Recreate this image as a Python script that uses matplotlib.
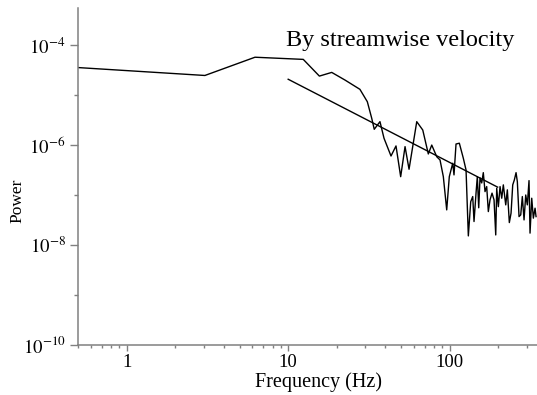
import matplotlib
matplotlib.use("Agg")
import matplotlib.pyplot as plt
from matplotlib.ticker import FixedLocator, FixedFormatter, LogLocator, NullFormatter

plt.rcParams['font.family'] = ['Liberation Serif', 'DejaVu Serif']
plt.rcParams['mathtext.fontset'] = 'stix'

# spectrum of streamwise velocity
freq = [0.5, 3.05, 6.23, 12.4, 15.6, 18.6, 22.5, 27.8, 30.9, 32.9,
        34.1, 37.0, 39.2, 43.3, 46.5, 49.7, 52.9, 56.0, 62.5, 68.1,
        73.7, 77.4, 83.1, 87.1, 91.3, 95.8, 99.4, 104.4, 106.3, 109.4,
        114.7, 121.4, 126.2, 130.4, 134.9, 138.8, 141.4, 145.5, 148.2, 151.2,
        154.0, 157.8, 161.4, 165.4, 169.4, 173.4, 177.6, 182.8, 188.1, 192.7,
        195.4, 200.0, 204.9, 209.9, 214.7, 222.2, 227.4, 233.9, 239.7, 245.5,
        251.2, 257.4, 262.2, 268.6, 275.2, 281.5, 288.5, 295.5, 302.3, 309.7,
        314.2, 321.9, 329.4, 337.5, 342.3]
power = [3.6e-5, 2.5e-5, 5.8e-5, 5.25e-5, 2.43e-5, 2.88e-5, 2.02e-5, 1.32e-5, 7.45e-6, 3.47e-6,
         2.09e-6, 2.97e-6, 1.38e-6, 6.1e-7, 9.7e-7, 2.35e-7, 9.4e-7, 3.31e-7, 2.97e-6, 2.02e-6,
         6.7e-7, 1.01e-6, 5.9e-7, 5.08e-7, 2.35e-7, 5.08e-8, 2.35e-7, 4.37e-7, 2.55e-7, 1.06e-6,
         1.1e-6, 5.5e-7, 3.2e-7, 1.53e-8, 7.4e-8, 9.4e-8, 2.97e-8, 1.1e-7, 2.35e-7, 5.6e-8,
         2.22e-7, 1.76e-7, 2.83e-7, 1.18e-7, 1.49e-7, 4.7e-8, 8.05e-8, 1.1e-7, 8.05e-8, 1.6e-8,
         1.38e-7, 5.9e-8, 1.49e-7, 8.7e-8, 1.61e-7, 6.4e-8, 1.28e-7, 2.83e-8, 4.37e-8, 1.61e-7,
         2.02e-7, 2.83e-7, 1.87e-7, 3.73e-8, 4.04e-8, 9.4e-8, 3.2e-8, 1.01e-7, 6.4e-8, 1.96e-7,
         1.74e-8, 8.7e-8, 3.47e-8, 5.5e-8, 3.73e-8]

# -5/3 reference slope
fit_freq = [10, 198]
fit_power = [2.1e-5, 1.45e-7]

ytick_vals = [1e-10, 1e-8, 1e-6, 1e-4]
ytick_labels = ['$10^{-10}$', '$10^{-8}$', '$10^{-6}$', '$10^{-4}$']
yminor_vals = [1e-9, 1e-7, 1e-5]
xtick_vals = [1, 10, 100]
xtick_labels = ['1', '10', '100']

fig = plt.figure(figsize=(5.37, 3.95), dpi=100)
ax = fig.add_axes([0.1453, 0.1266, 0.8547, 0.853])

ax.plot(freq, power, color='black', lw=1.0)
ax.plot(fit_freq, fit_power, color='black', lw=1.0)

ax.set_xscale('log')
ax.set_yscale('log')
ax.set_xlim(0.5, 347)
ax.set_ylim(1e-10, 5.6e-4)

ax.yaxis.set_major_locator(FixedLocator(ytick_vals))
ax.yaxis.set_major_formatter(FixedFormatter(ytick_labels))
ax.yaxis.set_minor_locator(FixedLocator(yminor_vals))
ax.yaxis.set_minor_formatter(NullFormatter())
ax.xaxis.set_major_locator(FixedLocator(xtick_vals))
ax.xaxis.set_major_formatter(FixedFormatter(xtick_labels))
ax.xaxis.set_minor_locator(LogLocator(base=10, subs=range(2, 10)))
ax.xaxis.set_minor_formatter(NullFormatter())

gray = '#808080'
for side in ['top', 'right']:
    ax.spines[side].set_visible(False)
for side in ['left', 'bottom']:
    ax.spines[side].set_color(gray)
    ax.spines[side].set_linewidth(1.1)

ax.tick_params(axis='y', which='major', length=6, width=1.0, color=gray, labelsize=13.5, pad=3)
ax.tick_params(axis='y', which='minor', length=3, width=1.0, color=gray)
ax.tick_params(axis='x', which='major', length=4.5, width=1.0, color=gray, labelsize=13.5, pad=2)
ax.tick_params(axis='x', which='minor', length=2.5, width=1.0, color=gray)

ax.set_xlabel('Frequency (Hz)', fontsize=14.5)
ax.xaxis.set_label_coords(0.525, -0.081)
ax.set_ylabel('Power', fontsize=12.5)
ax.yaxis.set_label_coords(-0.115, 0.427)

fig.text(0.746, 0.8843, 'By streamwise velocity', fontsize=17.5, ha='center', va='baseline')

fig.savefig('out.png', dpi=100)
